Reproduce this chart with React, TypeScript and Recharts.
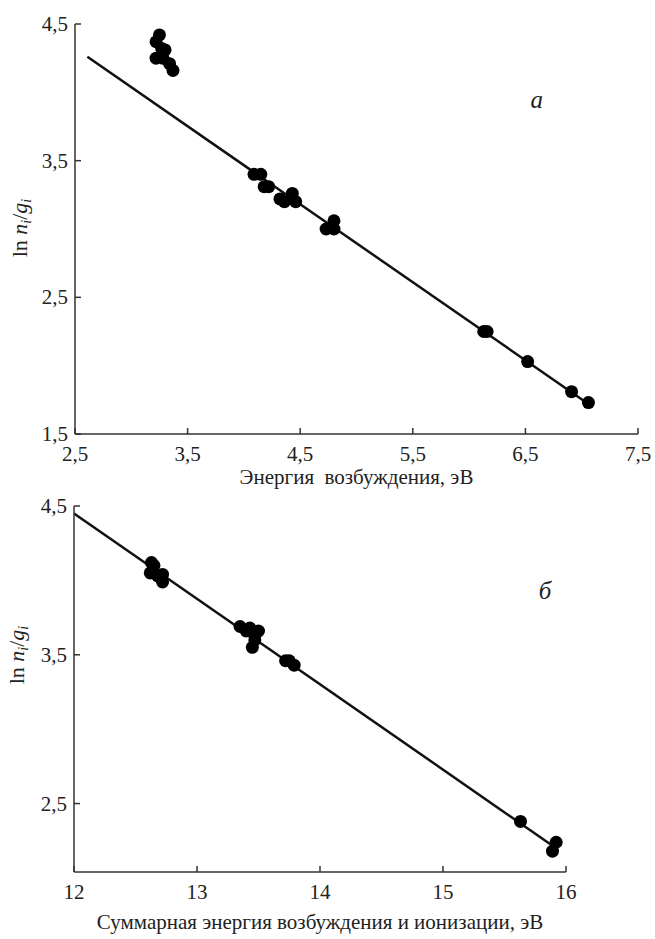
import React from "react";
import { ReferenceLine, Scatter, ScatterChart, XAxis, YAxis } from "recharts";

// panel "а": ln(n/g) vs excitation energy
const topPoints = [
  { x: 3.22, y: 4.37 },
  { x: 3.25, y: 4.42 },
  { x: 3.27, y: 4.32 },
  { x: 3.3, y: 4.31 },
  { x: 3.22, y: 4.25 },
  { x: 3.28, y: 4.25 },
  { x: 3.34, y: 4.21 },
  { x: 3.37, y: 4.16 },
  { x: 4.09, y: 3.4 },
  { x: 4.15, y: 3.4 },
  { x: 4.18, y: 3.31 },
  { x: 4.22, y: 3.31 },
  { x: 4.32, y: 3.22 },
  { x: 4.36, y: 3.2 },
  { x: 4.43, y: 3.26 },
  { x: 4.46, y: 3.2 },
  { x: 4.73, y: 3.0 },
  { x: 4.8, y: 3.06 },
  { x: 4.8, y: 3.0 },
  { x: 6.13, y: 2.25 },
  { x: 6.16, y: 2.25 },
  { x: 6.52, y: 2.03 },
  { x: 6.91, y: 1.81 },
  { x: 7.06, y: 1.73 },
];
const topFit = [
  { x: 2.61, y: 4.26 },
  { x: 7.06, y: 1.72 },
];
const topXTicks = [2.5, 3.5, 4.5, 5.5, 6.5, 7.5];
const topYTicks = [1.5, 2.5, 3.5, 4.5];
const topNote = [{ x: 6.6, y: 3.95, text: "а" }];

// panel "б": ln(n/g) vs total excitation + ionization energy
const bottomPoints = [
  { x: 12.63, y: 4.12 },
  { x: 12.65, y: 4.1 },
  { x: 12.62, y: 4.05 },
  { x: 12.68, y: 4.03 },
  { x: 12.72, y: 4.04 },
  { x: 12.72, y: 3.99 },
  { x: 13.35, y: 3.69 },
  { x: 13.4, y: 3.66 },
  { x: 13.43, y: 3.68 },
  { x: 13.47, y: 3.63 },
  { x: 13.5, y: 3.66 },
  { x: 13.45, y: 3.55 },
  { x: 13.47, y: 3.6 },
  { x: 13.72, y: 3.46 },
  { x: 13.75, y: 3.46 },
  { x: 13.79, y: 3.43 },
  { x: 15.63, y: 2.38 },
  { x: 15.92, y: 2.24 },
  { x: 15.89, y: 2.18 },
];
const bottomFit = [
  { x: 12, y: 4.45 },
  { x: 15.92, y: 2.2 },
];
const bottomXTicks = [12, 13, 14, 15, 16];
const bottomYTicks = [2.5, 3.5, 4.5];
const bottomNote = [{ x: 15.83, y: 3.93, text: "б" }];

const FONT = '"Liberation Serif", "Times New Roman", serif';
const AXIS = "#333";
const INK = "#111";

const fmt = (v: number) => String(v).replace(".", ",");

function XTick({ x, y, payload }: any) {
  return (
    <g>
      <line x1={x} y1={y} x2={x} y2={y - 6} stroke={AXIS} strokeWidth={1.5} />
      <text x={x} y={y + 27} textAnchor="middle" fontFamily={FONT} fontSize={21} fill="#222">
        {fmt(payload.value)}
      </text>
    </g>
  );
}

function YTick({ x, y, payload }: any) {
  return (
    <g>
      <line x1={x} y1={y} x2={x + 6} y2={y} stroke={AXIS} strokeWidth={1.5} />
      <text x={x - 7} y={y + 7} textAnchor="end" fontFamily={FONT} fontSize={21} fill="#222">
        {fmt(payload.value)}
      </text>
    </g>
  );
}

function YTitle({ cx, cy }: { cx: number; cy: number }) {
  return (
    <text
      x={cx}
      y={cy}
      transform={`rotate(-90 ${cx} ${cy})`}
      textAnchor="middle"
      fontFamily={FONT}
      fontSize={22}
      fill="#222"
    >
      ln{" "}
      <tspan fontStyle="italic">n</tspan>
      <tspan fontStyle="italic" fontSize={14} dy={4}>i</tspan>
      <tspan dy={-4}>/</tspan>
      <tspan fontStyle="italic">g</tspan>
      <tspan fontStyle="italic" fontSize={14} dy={4}>i</tspan>
    </text>
  );
}

const dot = (p: any) => <circle cx={p.cx} cy={p.cy} r={6.5} fill="#000" />;

const note = (p: any) => (
  <text
    x={p.cx}
    y={p.cy}
    textAnchor="middle"
    dominantBaseline="central"
    fontFamily={FONT}
    fontStyle="italic"
    fontSize={25}
    fill="#222"
  >
    {p.payload.text}
  </text>
);

export default function App() {
  return (
    <div style={{ position: "absolute", left: 0, top: 0, width: 655, height: 939, background: "#fff" }}>
      <div style={{ position: "absolute", left: 0, top: 0 }}>
        <ScatterChart width={655} height={490} margin={{ top: 24, right: 17, bottom: 0, left: 0 }}>
          <XAxis
            type="number"
            dataKey="x"
            domain={[2.5, 7.5]}
            ticks={topXTicks}
            height={56}
            tickSize={0}
            tickMargin={0}
            tickLine={false}
            tick={<XTick />}
            axisLine={{ stroke: AXIS, strokeWidth: 1.5 }}
            label={{
              content: ({ viewBox }: any) => (
                <text
                  x={viewBox.x + viewBox.width / 2}
                  y={viewBox.y + 50}
                  textAnchor="middle"
                  fontFamily={FONT}
                  fontSize={21}
                  fill="#222"
                  style={{ whiteSpace: "pre" }}
                >
                  {"Энергия  возбуждения, эВ"}
                </text>
              ),
            }}
          />
          <YAxis
            type="number"
            dataKey="y"
            domain={[1.5, 4.5]}
            ticks={topYTicks}
            width={75}
            tickSize={0}
            tickMargin={0}
            tickLine={false}
            tick={<YTick />}
            axisLine={{ stroke: AXIS, strokeWidth: 1.5 }}
            label={{ content: () => <YTitle cx={27} cy={228} /> }}
          />
          <ReferenceLine segment={topFit} stroke={INK} strokeWidth={2.5} />
          <Scatter data={topPoints} shape={dot} isAnimationActive={false} />
          <Scatter data={topNote} shape={note} isAnimationActive={false} />
        </ScatterChart>
      </div>
      <div style={{ position: "absolute", left: 0, top: 470 }}>
        <ScatterChart width={655} height={466} margin={{ top: 36, right: 89, bottom: 0, left: 0 }}>
          <XAxis
            type="number"
            dataKey="x"
            domain={[12, 16]}
            ticks={bottomXTicks}
            height={64}
            tickSize={0}
            tickMargin={0}
            tickLine={false}
            tick={<XTick />}
            axisLine={{ stroke: AXIS, strokeWidth: 1.5 }}
            label={{
              content: ({ viewBox }: any) => (
                <text
                  x={viewBox.x + viewBox.width / 2}
                  y={viewBox.y + 57}
                  textAnchor="middle"
                  fontFamily={FONT}
                  fontSize={21}
                  fill="#222"
                >
                  Суммарная энергия возбуждения и ионизации, эВ
                </text>
              ),
            }}
          />
          <YAxis
            type="number"
            dataKey="y"
            domain={[2.04, 4.5]}
            ticks={bottomYTicks}
            width={74}
            tickSize={0}
            tickMargin={0}
            tickLine={false}
            tick={<YTick />}
            axisLine={{ stroke: AXIS, strokeWidth: 1.5 }}
            label={{ content: () => <YTitle cx={24} cy={185} /> }}
          />
          <ReferenceLine segment={bottomFit} stroke={INK} strokeWidth={2.5} />
          <Scatter data={bottomPoints} shape={dot} isAnimationActive={false} />
          <Scatter data={bottomNote} shape={note} isAnimationActive={false} />
        </ScatterChart>
      </div>
    </div>
  );
}
